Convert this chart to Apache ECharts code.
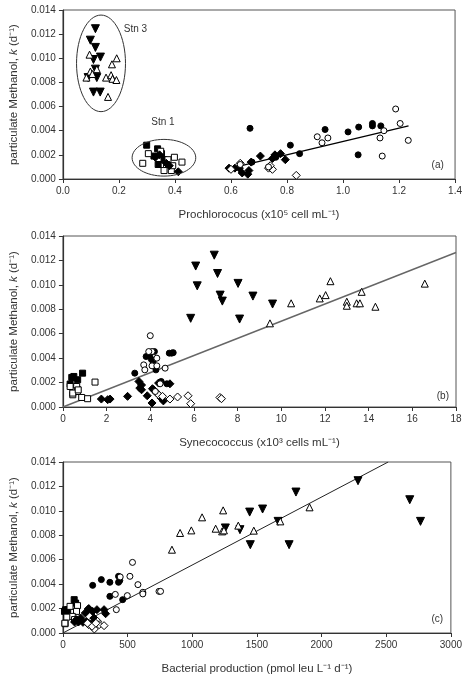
<!DOCTYPE html>
<html><head><meta charset="utf-8">
<script src="https://cdn.jsdelivr.net/npm/echarts/dist/echarts.min.js"></script>
<style>html,body{margin:0;padding:0;background:#fff}#c{width:465px;height:679px}</style>
</head><body><div id="c"></div>
<script>
// ---------- Panel (a): Prochlorococcus ----------
const aTriDown = [[0.116,0.01245],[0.098,0.0115],[0.116,0.0109],[0.109,0.0099],[0.134,0.0101],[0.116,0.0091],[0.09,0.0084],[0.121,0.0084],[0.109,0.0072],[0.133,0.0072]];
const aTriUp = [[0.095,0.0103],[0.192,0.0100],[0.175,0.0095],[0.098,0.0089],[0.121,0.0091],[0.084,0.0084],[0.154,0.0084],[0.172,0.0086],[0.177,0.0083],[0.191,0.0082],[0.161,0.0068],[0.105,0.0087]];
const aSqFilled = [[0.299,0.0028],[0.338,0.0025],[0.34,0.0012],[0.352,0.0021],[0.361,0.0016],[0.325,0.0019]];
const aSqOpen = [[0.285,0.0013],[0.305,0.0021],[0.349,0.0023],[0.375,0.0016],[0.398,0.0018],[0.425,0.0014],[0.361,0.0007],[0.387,0.0007],[0.392,0.0011],[0.37,0.0012]];
const aDiaFilled = [[0.33,0.0018],[0.345,0.0020],[0.369,0.0013],[0.38,0.0011],[0.412,0.0006],[0.593,0.0009],[0.614,0.0009],[0.64,0.0005],[0.664,0.0007],[0.705,0.0019],[0.748,0.0017],[0.757,0.0020],[0.777,0.0021],[0.794,0.0016],[0.672,0.0014],[0.63,0.0009],[0.66,0.0004]];
const aDiaOpen = [[0.633,0.0013],[0.734,0.0009],[0.748,0.0008],[0.833,0.0003],[0.74,0.0011],[0.60,0.0008]];
const aCircFilled = [[0.668,0.0042],[0.812,0.0028],[0.845,0.0021],[0.936,0.0041],[1.018,0.0039],[1.056,0.0043],[1.054,0.0020],[1.105,0.0046],[1.105,0.0044],[1.135,0.0044],[0.675,0.0014],[0.76,0.0018]];
const aCircOpen = [[1.188,0.0058],[1.204,0.0046],[1.233,0.0032],[1.14,0.0019],[1.132,0.0034],[1.146,0.0040],[0.908,0.0035],[0.925,0.0030],[0.946,0.0034],[0.633,0.0012],[0.734,0.0010]];
const aFit = [[0.6,0.0009],[1.234,0.0044]];

// ---------- Panel (b): Synechococcus ----------
const bTriDown = [[6.08,0.01154],[6.15,0.00992],[5.85,0.00726],[6.93,0.01243],[7.08,0.01093],[7.2,0.00916],[7.3,0.00867],[8.02,0.01012],[8.09,0.0072],[8.7,0.00908],[9.6,0.00843]];
const bTriUp = [[9.48,0.00685],[10.45,0.00849],[11.76,0.00889],[12.03,0.00916],[12.25,0.0103],[13.0,0.00862],[13.0,0.00829],[13.45,0.00849],[13.6,0.00849],[13.68,0.00943],[14.31,0.00821],[16.57,0.0101]];
const bSqFilled = [[0.405,0.00242],[0.9,0.00277],[0.675,0.00223],[0.33,0.00188],[0.675,0.00141],[0.5,0.0025]];
const bSqOpen = [[0.45,0.001],[0.63,0.00168],[0.48,0.00133],[0.86,0.00078],[1.13,0.00068],[1.47,0.00204],[0.66,0.00127],[0.33,0.00168],[0.45,0.00114],[0.7,0.0014]];
const bDiaFilled = [[1.76,0.00065],[2.16,0.00065],[2.96,0.00087],[3.48,0.00209],[3.52,0.00155],[3.6,0.00141],[3.86,0.00092],[4.08,0.00033],[4.15,0.00141],[4.38,0.00196],[4.5,0.00073],[4.9,0.0019],[4.3,0.00114],[2.05,0.0006],[3.6,0.0018],[4.1,0.0015],[4.6,0.0005]];
const bDiaOpen = [[4.38,0.001],[4.56,0.00087],[4.9,0.00065],[5.25,0.00082],[5.73,0.00092],[5.85,0.00027],[7.19,0.00078],[7.26,0.00068]];
const bCircFilled = [[3.29,0.00277],[3.81,0.00413],[3.97,0.00421],[4.19,0.00454],[4.13,0.00372],[4.26,0.00304],[4.87,0.00441],[4.98,0.00441],[5.05,0.00445],[4.5,0.00209],[4.76,0.0019],[4.05,0.0039]];
const bCircOpen = [[4.0,0.00584],[4.08,0.00454],[3.7,0.00345],[3.75,0.00304],[4.08,0.00337],[4.3,0.00337],[4.68,0.00318],[4.3,0.004],[3.93,0.00454],[4.23,0.00127],[4.45,0.0019]];
const bFit = [[0,0],[18,0.01265]];

// ---------- Panel (c): Bacterial production ----------
const cTriDown = [[1444,0.0099],[1544,0.01015],[1449,0.00723],[1802,0.01154],[1749,0.00723],[2282,0.01247],[2682,0.01091],[2765,0.00914],[1369,0.00846],[1256,0.0086],[1664,0.00914]];
const cTriUp = [[843,0.00682],[906,0.00819],[993,0.0084],[1076,0.00947],[1181,0.00854],[1231,0.00832],[1239,0.01004],[1356,0.00879],[1476,0.00838],[1681,0.00914],[1907,0.01029],[1245,0.0084]];
const cSqFilled = [[37,0.00191],[87,0.00273],[98,0.00245],[12,0.00177],[30,0.0015],[20,0.0019]];
const cSqOpen = [[17,0.00076],[113,0.00224],[105,0.00177],[72,0.00136],[55,0.00218],[30,0.0013],[90,0.0011],[15,0.0008]];
const cDiaFilled = [[137,0.00123],[173,0.00164],[197,0.00196],[230,0.00177],[263,0.00191],[318,0.00191],[330,0.00158],[180,0.00095],[218,0.00076],[105,0.00109],[155,0.00087],[240,0.00123],[120,0.0009],[90,0.0009],[200,0.0020]];
const cDiaOpen = [[200,0.00068],[243,0.00033],[268,0.00095],[280,0.00068],[318,0.0006],[225,0.00055],[190,0.0008],[255,0.0008]];
const cCircFilled = [[230,0.0039],[297,0.00437],[363,0.00415],[430,0.00415],[430,0.00464],[363,0.003],[462,0.00273],[440,0.0043]];
const cCircOpen = [[538,0.00578],[518,0.00464],[443,0.00459],[580,0.00396],[618,0.00333],[618,0.0032],[405,0.00316],[498,0.00306],[743,0.00341],[755,0.00341],[413,0.00191]];
const cFit = [[0,0],[2515,0.014]];

// ---------- axis settings ----------
const xNames = ['Prochlorococus (x10\u2075 cell mL\u207B\u00B9)', 'Synecococcus (x10\u00B3 cells mL\u207B\u00B9)', 'Bacterial production (pmol leu L\u207B\u00B9 d\u207B\u00B9)'];
const xMax = [1.4, 18, 3000];
const xStep = [0.2, 2, 500];
const xDecimals = [1, 0, 0];
const yName = 'particulate Methanol, {i|k} (d\u207B\u00B9)';
const panelLabels = ['(a)', '(b)', '(c)'];

const markerStyles = {
  triDown: {symbol: 'triangle', rotate: 180, fill: '#000', size: 8},
  triUp: {symbol: 'triangle', rotate: 0, fill: '#fff', size: 7},
  sqFilled: {symbol: 'rect', rotate: 0, fill: '#000', size: 6},
  sqOpen: {symbol: 'rect', rotate: 0, fill: '#fff', size: 6},
  diaFilled: {symbol: 'diamond', rotate: 0, fill: '#000', size: 8},
  diaOpen: {symbol: 'diamond', rotate: 0, fill: '#fff', size: 8},
  circFilled: {symbol: 'circle', rotate: 0, fill: '#000', size: 6},
  circOpen: {symbol: 'circle', rotate: 0, fill: '#fff', size: 6}
};

const panels = [
  {fit: aFit, fitColor: '#000', fitWidth: 1.4, sets: {triDown: aTriDown, triUp: aTriUp, sqFilled: aSqFilled, sqOpen: aSqOpen, diaFilled: aDiaFilled, diaOpen: aDiaOpen, circFilled: aCircFilled, circOpen: aCircOpen}},
  {fit: bFit, fitColor: '#666', fitWidth: 1.4, sets: {triDown: bTriDown, triUp: bTriUp, sqFilled: bSqFilled, sqOpen: bSqOpen, diaFilled: bDiaFilled, diaOpen: bDiaOpen, circFilled: bCircFilled, circOpen: bCircOpen}},
  {fit: cFit, fitColor: '#222', fitWidth: 1, sets: {triDown: cTriDown, triUp: cTriUp, sqFilled: cSqFilled, sqOpen: cSqOpen, diaFilled: cDiaFilled, diaOpen: cDiaOpen, circFilled: cCircFilled, circOpen: cCircOpen}}
];

const gridPos = [
  {left: 56, right: 8, top: 10, height: 169},
  {left: 56, right: 9, top: 236, height: 171},
  {left: 58, right: 8, top: 462, height: 171}
];

const font = 'Liberation Sans, Arial, sans-serif';
const txt = '#333';

const chart = echarts.init(document.getElementById('c'), null, {renderer: 'canvas'});
const option = {
  animation: false,
  backgroundColor: '#fff',
  grid: gridPos.map(g => Object.assign({show: true, borderColor: '#555', borderWidth: 1, containLabel: false}, g)),
  xAxis: [0,1,2].map(i => ({
    type: 'value', gridIndex: i, min: 0, max: xMax[i], interval: xStep[i],
    name: xNames[i], nameLocation: 'middle', nameGap: 30,
    nameTextStyle: {fontFamily: font, fontSize: 11.5, color: txt},
    axisLine: {onZero: false, lineStyle: {color: '#333', width: 1.2}},
    axisTick: {inside: false, length: 4, lineStyle: {color: '#333'}},
    axisLabel: {fontFamily: font, fontSize: 10, color: txt, margin: 7,
      formatter: v => v.toFixed(xDecimals[i])},
    splitLine: {show: false}
  })),
  yAxis: [0,1,2].map(i => ({
    type: 'value', gridIndex: i, min: 0, max: 0.014, interval: 0.002,
    name: yName, nameLocation: 'middle', nameGap: 38, nameRotate: 90,
    nameTextStyle: {fontFamily: font, fontSize: 11.5, color: txt,
      rich: {i: {fontFamily: font, fontSize: 11.5, color: txt, fontStyle: 'italic'}}},
    axisLine: {onZero: false, lineStyle: {color: '#333', width: 1.2}},
    axisTick: {inside: false, length: 4, lineStyle: {color: '#333'}},
    axisLabel: {fontFamily: font, fontSize: 10, color: txt, margin: 7,
      formatter: v => v.toFixed(3)},
    splitLine: {show: false}
  })),
  series: []
};

panels.forEach((p, i) => {
  option.series.push({
    type: 'line', xAxisIndex: i, yAxisIndex: i, data: p.fit, symbol: 'none',
    lineStyle: {color: p.fitColor, width: p.fitWidth}, z: 2, silent: true
  });
  Object.keys(p.sets).forEach(k => {
    const s = markerStyles[k];
    option.series.push({
      type: 'scatter', xAxisIndex: i, yAxisIndex: i, data: p.sets[k],
      symbol: s.symbol, symbolRotate: s.rotate, symbolSize: s.size,
      itemStyle: {color: s.fill, borderColor: '#000', borderWidth: 1, opacity: 1},
      z: 3
    });
  });
});

chart.setOption(option);

// annotations (ellipses, station names, panel letters) placed via data coordinates
function toPx(g, x, y) { return chart.convertToPixel({gridIndex: g}, [x, y]); }
function ell(g, cx, cy, rx, ry) {
  const c = toPx(g, cx, cy);
  const e = toPx(g, cx + rx, cy + ry);
  return {type: 'ellipse', shape: {cx: c[0], cy: c[1], rx: e[0] - c[0], ry: c[1] - e[1]},
    style: {fill: 'none', stroke: '#333', lineWidth: 1}, z: 10};
}
function label(g, x, y, text, size) {
  const c = toPx(g, x, y);
  return {type: 'text', x: c[0], y: c[1], z: 10,
    style: {text: text, fill: txt, font: size + 'px ' + font, align: 'center', verticalAlign: 'middle'}};
}
chart.setOption({graphic: [
  ell(0, 0.136, 0.00958, 0.0874, 0.0040),
  ell(0, 0.3606, 0.00176, 0.1136, 0.00152),
  label(0, 0.259, 0.0124, 'Stn 3', 10),
  label(0, 0.357, 0.0047, 'Stn 1', 10),
  label(0, 1.338, 0.00116, panelLabels[0], 10),
  label(1, 17.4, 0.00092, panelLabels[1], 10),
  label(2, 2895, 0.00109, panelLabels[2], 10)
]});
</script></body></html>
